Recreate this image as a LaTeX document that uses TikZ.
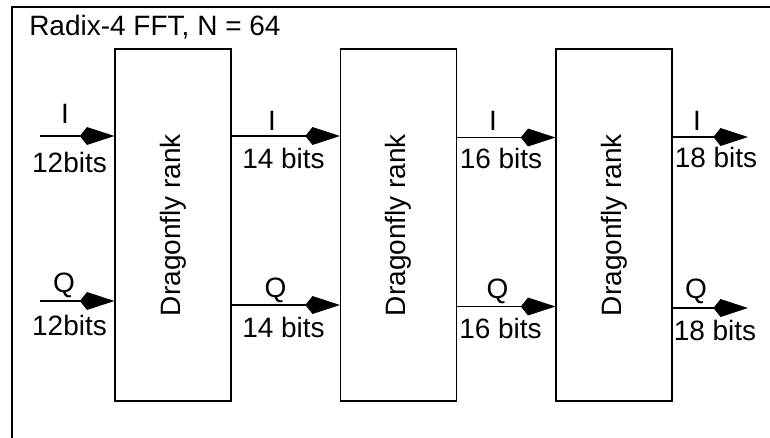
\documentclass[tikz,border=0pt]{standalone}
\usepackage{fontspec}
\setmainfont{Liberation Sans}
\usetikzlibrary{arrows.meta}
\begin{document}
\begin{tikzpicture}[x=0.75pt,y=-0.75pt,
  font=\fontsize{21}{25}\selectfont,
  box/.style={draw=black,line width=0.8pt,minimum width=87pt,minimum height=264pt,inner sep=0pt},
  lab/.style={anchor=base,inner sep=0pt},
  arr/.style={line width=0.8pt,-{Stealth[length=20.5pt,width=13pt,inset=-5.5pt]}}]
\useasboundingbox (0,0) rectangle (770,437);
\draw[line width=0.8pt] (771,7) -- (12,7) -- (12,438);
\node[anchor=base west,inner sep=0pt] (title) at (29,35) {Radix-4 FFT, N = 64};
\node[box] (b1) at (173,225) {\rotatebox{90}{Dragonfly rank}};
\node[box] (b2) at (398.5,225) {\rotatebox{90}{Dragonfly rank}};
\node[box] (b3) at (614,225) {\rotatebox{90}{Dragonfly rank}};
% free ends
\coordinate (inI) at (40,136);
\coordinate (inQ) at (40,301);
\coordinate (outI) at (748,137);
\coordinate (outQ) at (748,308);
% connectors
\draw[arr] (inI) -- (inI -| b1.west);
\draw[arr] (inQ) -- (inQ -| b1.west);
\draw[arr] (b1.east |- 0,136) -- (b2.west |- 0,136);
\draw[arr] (b1.east |- 0,305) -- (b2.west |- 0,305);
\draw[arr] (b2.east |- 0,137.5) -- (b3.west |- 0,137.5);
\draw[arr] (b2.east |- 0,306.5) -- (b3.west |- 0,306.5);
\draw[arr] (b3.east |- outI) -- (outI);
\draw[arr] (b3.east |- outQ) -- (outQ);
% labels
\node[lab] (l1) at (65,123) {I};
\node[lab] (l2) at (69.5,172) {12bits};
\node[lab] (l3) at (64,292) {Q};
\node[lab] (l4) at (69.5,335) {12bits};
\node[lab] (l5) at (272,130) {I};
\node[lab] (l6) at (283.5,168) {14 bits};
\node[lab] (l7) at (275.5,297) {Q};
\node[lab] (l8) at (283.5,337) {14 bits};
\node[lab] (l9) at (493,130) {I};
\node[lab] (l10) at (501,168) {16 bits};
\node[lab] (l11) at (497.5,298) {Q};
\node[lab] (l12) at (500.5,338) {16 bits};
\node[lab] (l13) at (697,130) {I};
\node[lab] (l14) at (716,167) {18 bits};
\node[lab] (l15) at (696,298) {Q};
\node[lab] (l16) at (715,340) {18 bits};
\end{tikzpicture}
\end{document}
